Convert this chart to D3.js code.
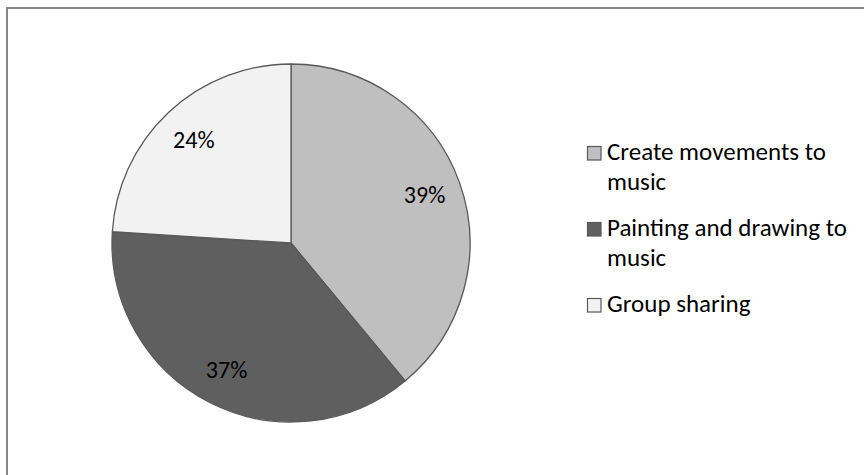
<!DOCTYPE html>
<html>
<head>
<meta charset="utf-8">
<script src="https://cdn.jsdelivr.net/npm/d3@7"></script>
<style>
  html, body { margin: 0; padding: 0; background: #fff; }
  svg { display: block; }
  text { font-family: Carlito, Calibri, Lato, "Open Sans", sans-serif; fill: #000; }
</style>
</head>
<body>
<svg id="chart" width="864" height="475"></svg>
<script>
const categories = ["Create movements to music", "Painting and drawing to music", "Group sharing"];
const values = [39, 37, 24];
const labels = ["39%", "37%", "24%"];
const legendLines = [["Create movements to", "music"], ["Painting and drawing to", "music"], ["Group sharing"]];
const colors = ["#bfbfbf", "#5f5f5f", "#f2f2f2"];

const svg = d3.select("#chart");

// outer frame (extends beyond right/bottom edges)
svg.append("rect")
  .attr("x", 7).attr("y", 8)
  .attr("width", 900).attr("height", 500)
  .attr("fill", "#fff")
  .attr("stroke", "#868686").attr("stroke-width", 2);

const cx = 291, cy = 243, R = 179;
const g = svg.append("g").attr("transform", `translate(${cx},${cy})`);

const pie = d3.pie().sort(null).value(d => d);
const arcs = pie(values);
const arc = d3.arc().innerRadius(0).outerRadius(R);
const labelArc = d3.arc().innerRadius(142).outerRadius(142);

g.selectAll("path.slice").data(arcs).enter().append("path")
  .attr("class", "slice")
  .attr("d", arc)
  .attr("fill", (d, i) => colors[i])
  .attr("stroke", "#595959")
  .attr("stroke-width", 1.3)
  .attr("stroke-linejoin", "round");

g.selectAll("text.lbl").data(arcs).enter().append("text")
  .attr("class", "lbl")
  .attr("x", d => labelArc.centroid(d)[0])
  .attr("y", d => labelArc.centroid(d)[1])
  .attr("dy", "0.35em")
  .attr("text-anchor", "middle")
  .style("font-size", "24px")
  .text((d, i) => labels[i]);

// legend
const legX = 587, legY0 = 146, legStep = 76, lineH = 30;
const leg = svg.append("g");
const items = leg.selectAll("g.item").data(categories).enter().append("g")
  .attr("class", "item")
  .attr("transform", (d, i) => `translate(${legX},${legY0 + i * legStep})`);

items.append("rect")
  .attr("x", 0.5).attr("y", 0.5)
  .attr("width", 13.5).attr("height", 13.5)
  .attr("fill", (d, i) => colors[i])
  .attr("stroke", "#595959").attr("stroke-width", 1.2);

items.each(function(d, i) {
  const t = d3.select(this).append("text")
    .attr("x", 20).attr("y", 14)
    .style("font-size", "25px");
  legendLines[i].forEach((ln, j) => {
    t.append("tspan").attr("x", 20).attr("y", 14 + j * lineH).text(ln);
  });
});
</script>
</body>
</html>
